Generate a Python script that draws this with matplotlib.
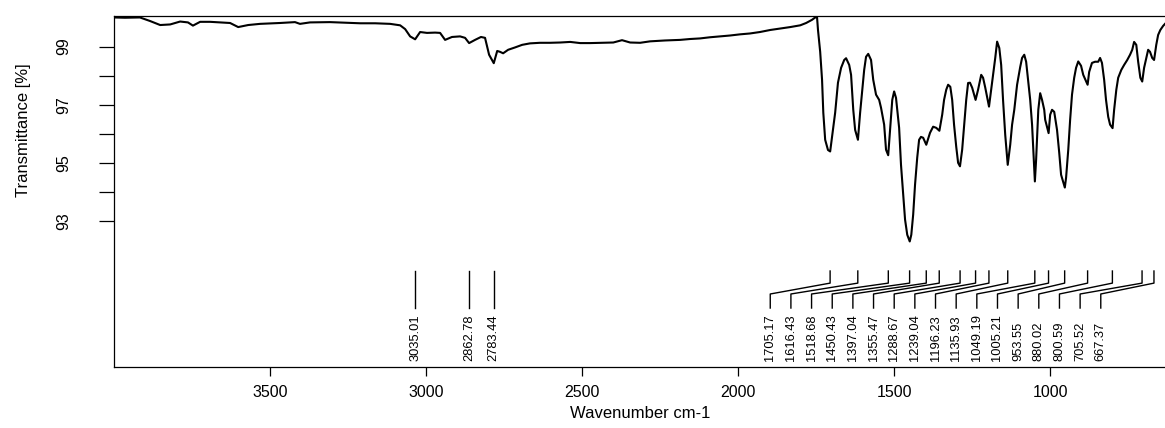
import numpy as np
import matplotlib
matplotlib.use('Agg')
import matplotlib.pyplot as plt
import matplotlib.transforms as mtransforms

# ---- spectrum (wavenumber, transmittance %)
wavenumber = [4000, 3965, 3917, 3885, 3852, 3820, 3788, 3763, 3747, 3724,
              3692, 3660, 3628, 3602, 3570, 3532, 3468, 3420, 3404, 3372,
              3308, 3260, 3211, 3163, 3115, 3083, 3067, 3051, 3035, 3019,
              2997, 2971, 2955, 2939, 2917, 2891, 2875, 2862, 2843, 2824,
              2811, 2798, 2783, 2772, 2763, 2753, 2737, 2715, 2692, 2667,
              2635, 2603, 2570, 2538, 2506, 2474, 2442, 2400, 2372, 2346,
              2314, 2282, 2234, 2186, 2154, 2122, 2090, 2058, 2026, 1994,
              1962, 1930, 1897, 1865, 1833, 1801, 1782, 1763, 1753, 1747,
              1744, 1737, 1731, 1727, 1721, 1712, 1705, 1699, 1689, 1680,
              1670, 1660, 1654, 1644, 1638, 1631, 1625, 1616, 1609, 1602,
              1596, 1590, 1583, 1574, 1567, 1558, 1548, 1542, 1532, 1526,
              1519, 1513, 1506, 1500, 1494, 1484, 1478, 1471, 1465, 1458,
              1450, 1445, 1439, 1433, 1426, 1420, 1414, 1407, 1397, 1391,
              1385, 1375, 1365, 1355, 1346, 1340, 1333, 1327, 1320, 1314,
              1308, 1301, 1295, 1289, 1282, 1276, 1269, 1263, 1257, 1250,
              1239, 1231, 1221, 1215, 1208, 1196, 1189, 1183, 1176, 1170,
              1163, 1157, 1151, 1144, 1136, 1128, 1122, 1115, 1106, 1096,
              1090, 1083, 1077, 1071, 1064, 1058, 1049, 1045, 1038, 1032,
              1026, 1019, 1016, 1005, 1000, 994, 987, 978, 971, 965,
              953, 949, 942, 936, 930, 923, 917, 910, 901, 894,
              880, 875, 866, 856, 846, 840, 834, 827, 821, 814,
              808, 800, 795, 788, 782, 772, 763, 753, 744, 737,
              731, 724, 718, 711, 705, 699, 692, 686, 680, 673,
              667, 660, 654, 647, 638, 632]
transmittance = [100.0, 99.99, 100.0, 99.88, 99.74, 99.76, 99.86, 99.83, 99.72, 99.85,
                 99.85, 99.83, 99.81, 99.67, 99.74, 99.78, 99.81, 99.84, 99.78, 99.83,
                 99.84, 99.82, 99.80, 99.80, 99.78, 99.73, 99.60, 99.35, 99.25, 99.50,
                 99.47, 99.48, 99.47, 99.23, 99.33, 99.35, 99.30, 99.12, 99.23, 99.33,
                 99.30, 98.72, 98.43, 98.85, 98.82, 98.77, 98.89, 98.97, 99.06, 99.11,
                 99.13, 99.13, 99.14, 99.16, 99.12, 99.12, 99.13, 99.14, 99.22, 99.14,
                 99.13, 99.18, 99.21, 99.23, 99.26, 99.28, 99.32, 99.35, 99.38, 99.42,
                 99.45, 99.50, 99.57, 99.62, 99.67, 99.73, 99.81, 99.92, 100.0, 100.0,
                 99.57, 98.82, 97.86, 96.73, 95.80, 95.45, 95.40, 95.90, 96.73, 97.76,
                 98.27, 98.54, 98.60, 98.37, 98.03, 96.83, 96.14, 95.80, 96.73, 97.52,
                 98.20, 98.65, 98.75, 98.54, 97.86, 97.35, 97.17, 96.90, 96.32, 95.46,
                 95.27, 96.14, 97.17, 97.46, 97.24, 96.21, 94.94, 93.92, 93.06, 92.54,
                 92.31, 92.54, 93.23, 94.26, 95.19, 95.80, 95.90, 95.87, 95.63, 95.84,
                 96.04, 96.25, 96.21, 96.11, 96.66, 97.17, 97.52, 97.69, 97.62, 97.17,
                 96.32, 95.56, 95.01, 94.89, 95.46, 96.25, 97.17, 97.75, 97.76, 97.59,
                 97.17, 97.52, 98.03, 97.93, 97.59, 96.94, 97.52, 98.03, 98.61, 99.17,
                 98.95, 98.37, 97.17, 95.97, 94.94, 95.63, 96.32, 96.83, 97.69, 98.30,
                 98.61, 98.72, 98.48, 97.86, 97.17, 96.32, 94.37, 95.12, 96.83, 97.40,
                 97.17, 96.83, 96.49, 96.03, 96.66, 96.83, 96.76, 96.14, 95.36, 94.60,
                 94.16, 94.50, 95.46, 96.49, 97.35, 97.93, 98.27, 98.49, 98.34, 98.03,
                 97.69, 98.13, 98.44, 98.48, 98.48, 98.61, 98.44, 97.86, 97.17, 96.59,
                 96.32, 96.20, 96.83, 97.52, 97.93, 98.20, 98.37, 98.54, 98.72, 98.89,
                 99.16, 99.06, 98.48, 97.93, 97.80, 98.27, 98.61, 98.89, 98.82, 98.61,
                 98.54, 99.06, 99.40, 99.57, 99.71, 99.78]

peaks = [3035.01, 2862.78, 2783.44, 1705.17, 1616.43, 1518.68, 1450.43, 1397.04,
         1355.47, 1288.67, 1239.04, 1196.23, 1135.93, 1049.19, 1005.21, 953.55,
         880.02, 800.59, 705.52, 667.37]

xticks = [3500, 3000, 2500, 2000, 1500, 1000]
yticks = [93, 95, 97, 99]
yminor = [94, 96, 98]

plt.rcParams['font.family'] = ['Liberation Sans', 'DejaVu Sans']

fig = plt.figure(figsize=(11.65, 4.28), dpi=100)
ax = fig.add_axes([114 / 1165, 61 / 428, 1 - 114 / 1165, 351 / 428])

ax.plot(wavenumber, transmittance, color='black', lw=1.5)
ax.set_xlim(4000, 632)
ax.set_ylim(88.0, 100.05)

# peak markers with labels (crowded ones fanned out)
trans = mtransforms.blended_transform_factory(ax.transData, ax.transAxes)
group_start = 1897.0
label_gap = 66.2
label_x = list(peaks[:3]) + [group_start - i * label_gap for i in range(len(peaks) - 3)]
for p, lx in zip(peaks, label_x):
    ax.plot([p, p, lx, lx], [0.2735, 0.239, 0.208, 0.168], color='black', lw=1.0,
            transform=trans, clip_on=False)
    ax.text(lx, 0.017, '%.2f' % p, transform=trans, rotation=90, ha='center',
            va='bottom', fontsize=9.3)

ax.set_xticks(xticks)
ax.set_yticks(yticks)
ax.set_yticks(yminor, minor=True)
ax.tick_params(axis='x', direction='out', length=6.7, width=0.9, labelsize=11.5, pad=6)
ax.tick_params(axis='y', which='both', direction='out', length=10.5, width=0.9,
               labelsize=11.5, pad=20)
for lab in ax.get_yticklabels():
    lab.set_rotation(90)
    lab.set_va('center')
ax.spines['right'].set_visible(False)
for s in ['left', 'top', 'bottom']:
    ax.spines[s].set_linewidth(0.9)

fig.text(24 / 1165, 1 - 130 / 428, 'Transmittance [%]', rotation=90, ha='center',
         va='center', fontsize=12)
fig.text(640 / 1165, 1 - 413 / 428, 'Wavenumber cm-1', ha='center', va='center',
         fontsize=12)

fig.savefig('out.png', dpi=100)
